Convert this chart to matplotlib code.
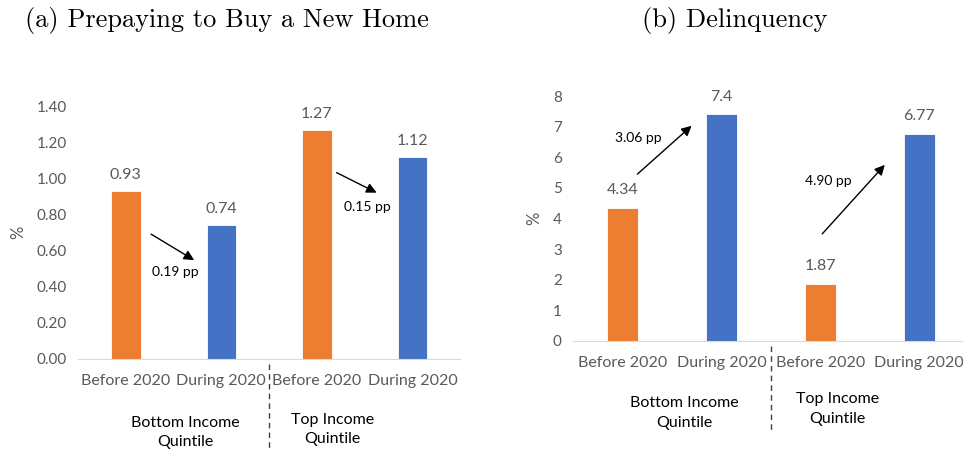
import matplotlib.pyplot as plt

categories = ["Before 2020", "During 2020", "Before 2020", "During 2020"]
groups = ["Bottom Income\nQuintile", "Top Income\nQuintile"]

prepay_values = [0.93, 0.74, 1.27, 1.12]
prepay_labels = ["0.93", "0.74", "1.27", "1.12"]
prepay_ticks = [0.0, 0.2, 0.4, 0.6, 0.8, 1.0, 1.2, 1.4]
prepay_changes = ["0.19 pp", "0.15 pp"]

delinq_values = [4.34, 7.4, 1.87, 6.77]
delinq_labels = ["4.34", "7.4", "1.87", "6.77"]
delinq_ticks = [0, 1, 2, 3, 4, 5, 6, 7, 8]
delinq_changes = ["3.06 pp", "4.90 pp"]

ORANGE = "#ED7D31"
BLUE = "#4472C4"
GRAY = "#595959"
colors = [ORANGE, BLUE, ORANGE, BLUE]

plt.rcParams["font.family"] = ["Lato", "DejaVu Sans"]

fig = plt.figure(figsize=(9.63, 4.51), dpi=100)


def draw_panel(ax, values, labels, ticks, tick_fmt, label_off):
    x = range(len(values))
    ax.bar(x, values, width=0.31, color=colors, edgecolor="white", linewidth=0.6)
    for xi, v, lab in zip(x, values, labels):
        ax.text(xi, v + label_off, lab, ha="center", va="bottom", fontsize=11.5, color=GRAY)
    ax.set_xlim(-0.5, 3.5)
    ax.set_ylim(ticks[0], ticks[-1])
    ax.set_yticks(ticks)
    ax.set_yticklabels([tick_fmt.format(t) for t in ticks], fontsize=11, color=GRAY)
    ax.set_xticks(list(x))
    ax.set_xticklabels(categories, fontsize=11.5, color=GRAY)
    ax.tick_params(axis="x", length=0, pad=11)
    ax.tick_params(axis="y", length=0, pad=8)
    for s in ["top", "right", "left"]:
        ax.spines[s].set_visible(False)
    ax.spines["bottom"].set_color("#D9D9D9")
    ax.set_ylabel("%", fontsize=12, color=GRAY)
    ax.axvline(1.5, ymin=-0.02, ymax=-0.37, color="#404040", ls=(0, (4, 3)), lw=1, clip_on=False)


def arrow(ax, start, end):
    ax.annotate("", xy=end, xytext=start,
                arrowprops=dict(arrowstyle="-|>", color="black", lw=1, mutation_scale=15))


# (a) Prepaying to Buy a New Home
ax1 = fig.add_axes([0.081, 0.204, 0.397, 0.56])
draw_panel(ax1, prepay_values, prepay_labels, prepay_ticks, "{:.2f}", 0.05)
ax1.yaxis.set_label_coords(-0.136, 0.5)
arrow(ax1, (0.24, 0.70), (0.74, 0.54))
arrow(ax1, (2.18, 1.04), (2.65, 0.915))
ax1.text(0.52, 0.48, prepay_changes[0], ha="center", va="center", fontsize=10)
ax1.text(2.53, 0.84, prepay_changes[1], ha="center", va="center", fontsize=10)
ax1.text(0.625, -0.225, groups[0], transform=ax1.get_xaxis_transform(), ha="center", va="top",
         fontsize=11.5, color="black", linespacing=1.5)
ax1.text(2.16, -0.213, groups[1], transform=ax1.get_xaxis_transform(), ha="center", va="top",
         fontsize=11.5, color="black", linespacing=1.5)
fig.text(0.236, 0.955, "(a) Prepaying to Buy a New Home", ha="center", va="center",
         fontsize=19, family="cmr10")

# (b) Delinquency
ax2 = fig.add_axes([0.595, 0.244, 0.411, 0.543])
draw_panel(ax2, delinq_values, delinq_labels, delinq_ticks, "{:d}", 0.35)
ax2.yaxis.set_label_coords(-0.077, 0.5)
arrow(ax2, (0.13, 5.39), (0.72, 7.09))
arrow(ax2, (2.0, 3.43), (2.67, 5.82))
ax2.text(0.16, 6.63, delinq_changes[0], ha="center", va="center", fontsize=10)
ax2.text(2.08, 5.23, delinq_changes[1], ha="center", va="center", fontsize=10)
ax2.text(0.63, -0.225, groups[0], transform=ax2.get_xaxis_transform(), ha="center", va="top",
         fontsize=11.5, color="black", linespacing=1.5)
ax2.text(2.17, -0.21, groups[1], transform=ax2.get_xaxis_transform(), ha="center", va="top",
         fontsize=11.5, color="black", linespacing=1.5)
fig.text(0.763, 0.955, "(b) Delinquency", ha="center", va="center",
         fontsize=19, family="cmr10")

fig.savefig("out.png", dpi=100)
